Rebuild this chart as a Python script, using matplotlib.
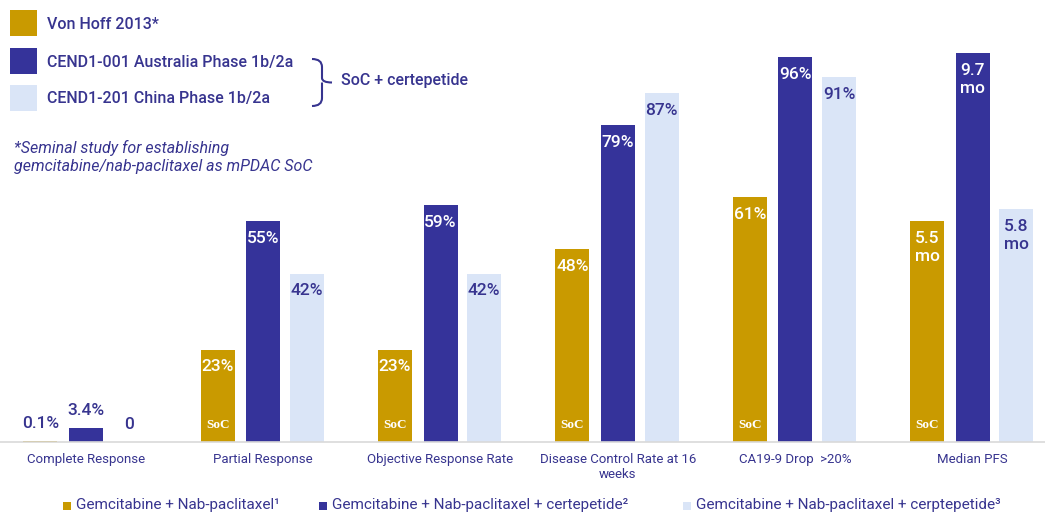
import matplotlib.pyplot as plt
from matplotlib.patches import Rectangle, PathPatch
from matplotlib.path import Path

# Dados do gráfico
categorias = ["Complete Response", "Partial Response", "Objective Response Rate",
              "Disease Control Rate at 16\nweeks", "CA19-9 Drop  >20%", "Median PFS"]
soc_vals = [0.1, 23, 23, 48, 61, 5.5]
aus_vals = [3.4, 55, 59, 79, 96, 9.7]
china_vals = [0, 42, 42, 87, 91, 5.8]
# PFS em meses, desenhado na escala 10x para ficar comparável aos percentuais
escala = [1, 1, 1, 1, 1, 10]
soc_labels = ["0.1%", "23%", "23%", "48%", "61%", "5.5\nmo"]
aus_labels = ["3.4%", "55%", "59%", "79%", "96%", "9.7\nmo"]
china_labels = ["0", "42%", "42%", "87%", "91%", "5.8\nmo"]
legenda_base = ["Gemcitabine + Nab-paclitaxel\u00b9",
                "Gemcitabine + Nab-paclitaxel + certepetide\u00b2",
                "Gemcitabine + Nab-paclitaxel + cerptepetide\u00b3"]
legenda_topo = ["Von Hoff 2013*", "CEND1-001 Australia Phase 1b/2a", "CEND1-201 China Phase 1b/2a"]

GOLD = "#C99A00"
NAVY = "#35339A"
LIGHT = "#DAE5F7"
TXT = "#37348F"

plt.rcParams['font.family'] = ['Roboto', 'DejaVu Sans']

W, H = 1045, 514
fig = plt.figure(figsize=(10.45, 5.14), dpi=100)
fig.patch.set_facecolor('white')

base_y = 441.5
passo = 177.4
ax = fig.add_axes([0, (H - base_y) / H, 1, 400 / H])
ax.set_ylim(0, 100)
ax.set_xlim(-85.7 / passo, (W - 85.7) / passo)

larg = 34 / passo
offs = [-45.5 / passo, 0, 43.7 / passo]
series = [(soc_vals, soc_labels, GOLD, 'white'),
          (aus_vals, aus_labels, NAVY, 'white'),
          (china_vals, china_labels, LIGHT, TXT)]

for k, (vals, labs, cor, cor_txt) in enumerate(series):
    for i, (v, lab) in enumerate(zip(vals, labs)):
        h = v * escala[i]
        x = i + offs[k]
        ax.bar(x, h, width=larg, color=cor, edgecolor='none')
        if h < 10:
            ax.annotate(lab, (x, h), xytext=(0, 7), textcoords='offset points',
                        ha='center', va='bottom', fontsize=12.5, color=TXT,
                        weight='medium')
        else:
            ax.annotate(lab, (x, h), xytext=(0, -6.5), textcoords='offset points',
                        ha='center', va='top', fontsize=12.5, color=cor_txt,
                        linespacing=1.3, weight='medium')
        if k == 0 and h >= 10:
            ax.text(x, 4, "SoC", ha='center', va='center', fontsize=9.5,
                    color='white', family='Liberation Serif', weight='bold')

ax.set_xticks(range(len(categorias)))
ax.set_xticklabels(categorias, fontsize=9.5, color=TXT)
ax.tick_params(axis='x', length=0, pad=8)
ax.set_yticks([])
for s in ['top', 'left', 'right']:
    ax.spines[s].set_visible(False)
ax.spines['bottom'].set_color('#D9D9D9')
ax.spines['bottom'].set_linewidth(1.2)


def fx(px):
    return px / W


def fy(py):
    return 1 - py / H


# Legenda superior
cores_topo = [GOLD, NAVY, LIGHT]
ys_topo = [10, 48, 85]
for cor, y0, txt in zip(cores_topo, ys_topo, legenda_topo):
    fig.add_artist(Rectangle((fx(10), fy(y0 + 26)), 27 / W, 26 / H,
                             transform=fig.transFigure, color=cor, lw=0))
    fig.text(fx(47), fy(y0 + 14), txt, ha='left', va='center', fontsize=11.5,
             color=TXT, weight='medium')

# Chave "}"
pts = [(312, 59), (322, 59), (322, 67), (322, 78), (322, 82.5), (332, 82.5),
       (322, 82.5), (322, 87), (322, 98), (322, 106), (312, 106)]
codes = [Path.MOVETO, Path.CURVE3, Path.CURVE3, Path.LINETO, Path.CURVE3, Path.CURVE3,
         Path.MOVETO, Path.CURVE3, Path.LINETO, Path.CURVE3, Path.CURVE3]
verts = [(fx(a), fy(b)) for a, b in pts]
fig.add_artist(PathPatch(Path(verts, codes), transform=fig.transFigure,
                         fill=False, edgecolor=TXT, lw=1.5))
fig.text(fx(341), fy(81), "SoC + certepetide", ha='left', va='center',
         fontsize=11.5, color=TXT, weight='medium')

fig.text(fx(14), fy(157), "*Seminal study for establishing\ngemcitabine/nab-paclitaxel as mPDAC SoC",
         ha='left', va='center', fontsize=11.5, color=TXT, style='italic',
         linespacing=1.25)

# Legenda inferior
xs_base = [63, 319, 683]
for cor, x0, txt in zip(cores_topo, xs_base, legenda_base):
    fig.add_artist(Rectangle((fx(x0), fy(510)), 8 / W, 8 / H,
                             transform=fig.transFigure, color=cor, lw=0))
    fig.text(fx(x0 + 13), fy(505.5), txt, ha='left', va='center', fontsize=11,
             color=TXT)

plt.savefig("out.png", dpi=100)
